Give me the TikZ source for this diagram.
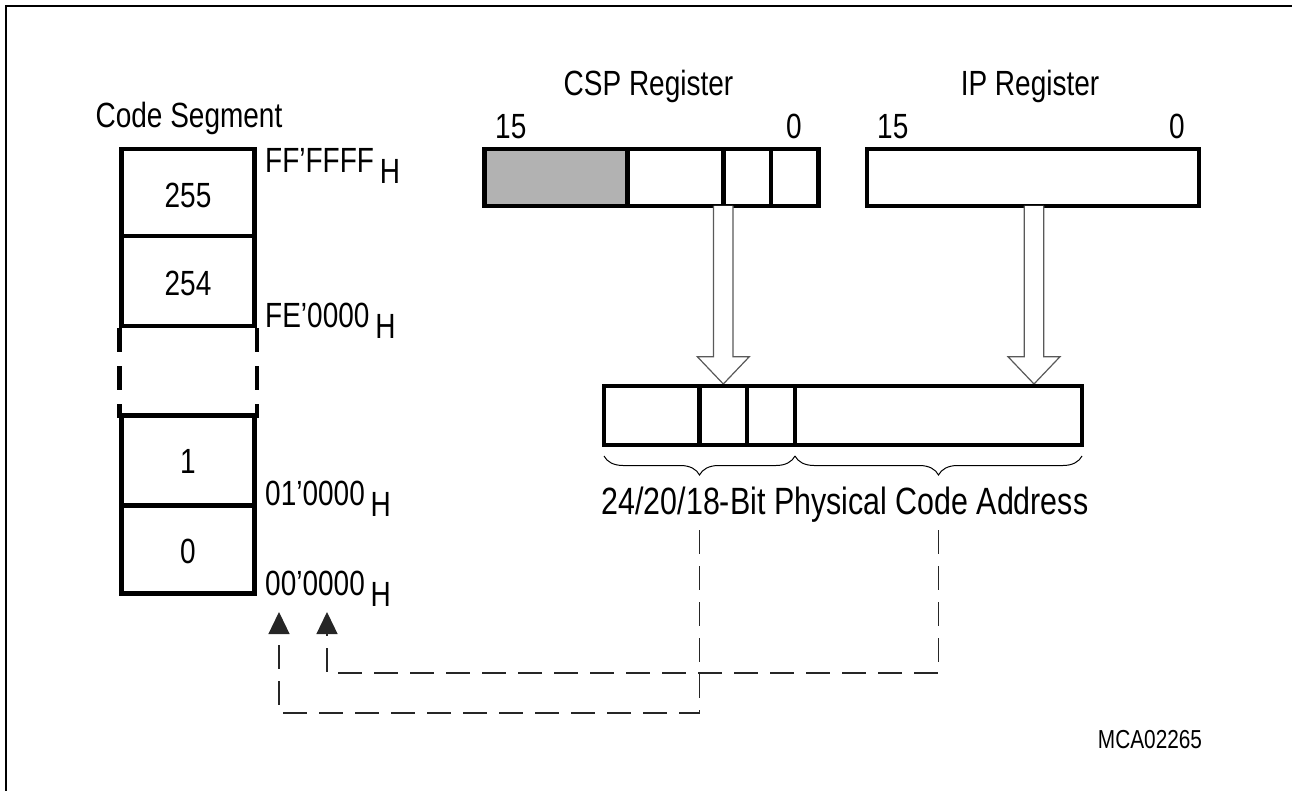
\documentclass[tikz,border=0pt]{standalone}
\usepackage{fontspec}
\setmainfont{Liberation Sans}[FakeStretch=0.8]
\usetikzlibrary{arrows.meta,decorations.pathreplacing,calc}
\newcommand\lblfont{\fontsize{35}{42}\selectfont}
\newcommand\bigfont{\fontsize{38}{45}\selectfont}
\newcommand\smallfont{\fontsize{26}{31}\selectfont}
\begin{document}
\begin{tikzpicture}[x=1pt,y=-1pt,
  thickline/.style={line width=4.8pt},
  cell/.style={draw, thickline, inner sep=0pt, minimum width=133pt, minimum height=#1},
  regbox/.style={draw, thickline, inner sep=0pt, minimum height=57pt, minimum width=#1},
  lbl/.style={font=\lblfont, inner sep=0pt},
  dashconn/.style={line width=1.3pt, draw=black!85, dash pattern=on 24pt off 12pt,
     -{Triangle[width=21pt,length=22pt]}},
  pics/hollowarrow/.style={code={
     \draw[line width=1.2pt, draw=black!65, fill=white]
       (-9.75,0) -- (-9.75,150.7) -- (-26,150.7) -- (0,178) -- (26,150.7) -- (9.75,150.7) -- (9.75,0);
  }}
]
\useasboundingbox (0,0) rectangle (1292,791);
% frame
\draw[line width=2.4pt, line join=miter] (6,791) -- (6,6) -- (1292,6);

% code segment
\node[lbl, anchor=base] (cstitle) at (189,128) {Code Segment};
\node[cell=87pt] (c255) at (188,192.5) {};
\node[cell=90pt] (c254) at (188,281) {};
\node[cell=90pt] (c1) at (188,460.5) {};
\node[cell=88pt] (c0) at (188,549.5) {};
\foreach \s in {south west, south east}{
  \draw[thickline] (c254.\s) -- ++(0,24) ++(0,14) -- ++(0,24) ++(0,14) -- ++(0,13.5);
}
\node[lbl, anchor=base] (t255) at (188,208) {255};
\node[lbl, anchor=base] (t254) at (188,296) {254};
\node[lbl, anchor=base] (t1) at (188,473) {1};
\node[lbl, anchor=base] (t0) at (188,563) {0};
\node[lbl, anchor=base west] (aFF) at (265,173) {FF’FFFF\,\raisebox{-11pt}{H}};
\node[lbl, anchor=base west] (aFE) at (265,327) {FE’0000\,\raisebox{-11pt}{H}};
\node[lbl, anchor=base west] (a01) at (265,505) {01’0000\,\raisebox{-11pt}{H}};
\node[lbl, anchor=base west] (a00) at (265,595) {00’0000\,\raisebox{-11pt}{H}};

% CSP register
\node[lbl, anchor=base] (csptitle) at (648.5,96) {CSP Register};
\node[lbl, anchor=base west] (csp15) at (495,139) {15};
\node[lbl, anchor=base east] (csp0) at (802,139) {0};
\fill[black!30] (484.7,149) rectangle (627.7,206);
\node[regbox=334pt] (csp) at (651.7,177.5) {};
\draw[thickline] (627.7,149) -- (627.7,206) (723.3,149) -- (723.3,206) (771,149) -- (771,206);

% IP register
\node[lbl, anchor=base] (iptitle) at (1030,96) {IP Register};
\node[lbl, anchor=base west] (ip15) at (877,139) {15};
\node[lbl, anchor=base east] (ip0) at (1185,139) {0};
\node[regbox=332pt] (ip) at (1033,177.5) {};

% hollow arrows
\coordinate (cspout) at (723.3,206);
\coordinate (ipout) at (1034,206);
\pic at (cspout) {hollowarrow};
\pic at (ipout) {hollowarrow};

% physical address
\node[draw, thickline, inner sep=0pt, minimum width=478pt, minimum height=59pt] (phys) at (843,415.5) {};
\draw[thickline] (699.5,386) -- (699.5,445) (747,386) -- (747,445) (795,386) -- (795,445);
\draw[line width=1pt, decorate, decoration={brace, amplitude=19pt}] (795,456) -- (604,456);
\draw[line width=1pt, decorate, decoration={brace, amplitude=19pt}] (1082,456) -- (795,456);
\node[font=\bigfont, inner sep=0pt, anchor=base] (physlbl) at (845,514) {24/20/18-Bit Physical Code Address};

% dashed connectors
\coordinate (d1) at (699.5,530);
\coordinate (d2) at (938.5,530);
\coordinate (t1tip) at (279,612);
\coordinate (t2tip) at (327,612);
\draw[dashconn] (d1) |- (279,713) -- (t1tip);
\draw[dashconn] (d2) |- (327,673) -- (t2tip);

\node[font=\smallfont, inner sep=0pt, anchor=base] (mca) at (1150,748) {MCA02265};
\end{tikzpicture}
\end{document}
